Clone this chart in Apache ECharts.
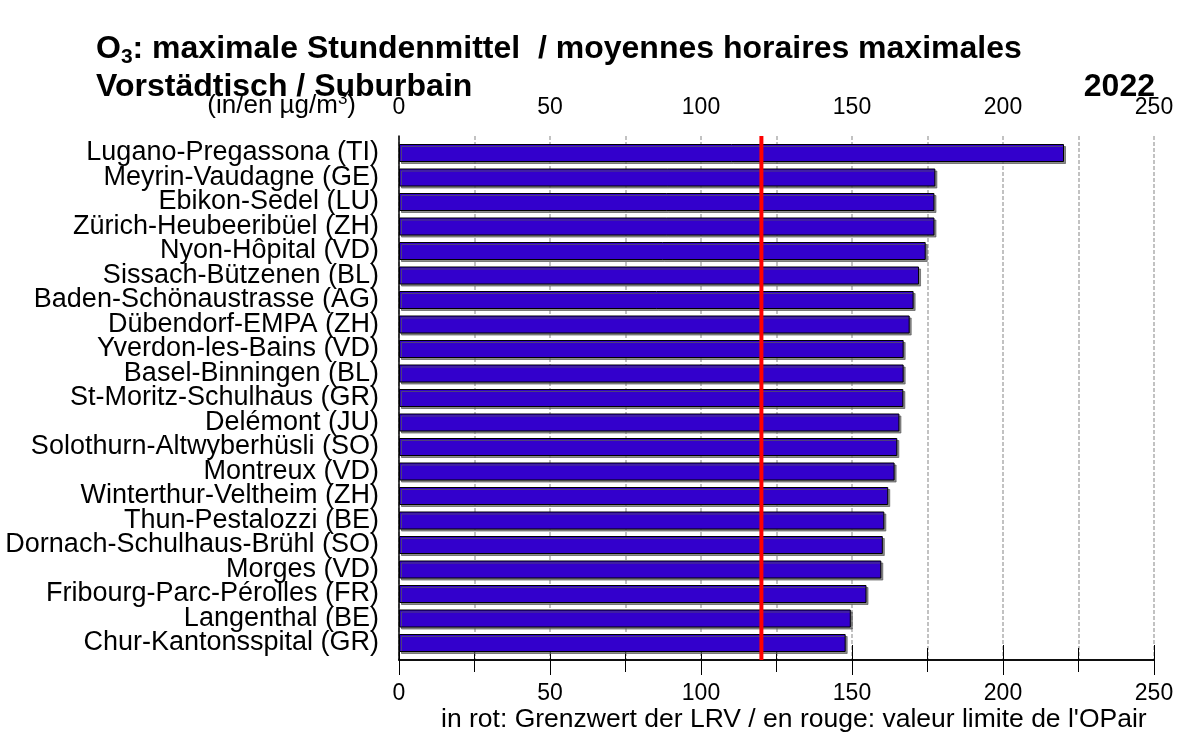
<!DOCTYPE html>
<html>
<head>
<meta charset="utf-8">
<script src="https://cdn.jsdelivr.net/npm/echarts@6/dist/echarts.min.js"></script>
<style>
  html, body { margin: 0; padding: 0; background: #fff; }
  #chart { width: 1185px; height: 736px; }
</style>
</head>
<body>
<div id="chart"></div>
<script>
const stations = [
  'Lugano-Pregassona (TI)', 'Meyrin-Vaudagne (GE)', 'Ebikon-Sedel (LU)', 'Zürich-Heubeeribüel (ZH)',
  'Nyon-Hôpital (VD)', 'Sissach-Bützenen (BL)', 'Baden-Schönaustrasse (AG)', 'Dübendorf-EMPA (ZH)',
  'Yverdon-les-Bains (VD)', 'Basel-Binningen (BL)', 'St-Moritz-Schulhaus (GR)', 'Delémont (JU)',
  'Solothurn-Altwyberhüsli (SO)', 'Montreux (VD)', 'Winterthur-Veltheim (ZH)', 'Thun-Pestalozzi (BE)',
  'Dornach-Schulhaus-Brühl (SO)', 'Morges (VD)', 'Fribourg-Parc-Pérolles (FR)', 'Langenthal (BE)',
  'Chur-Kantonsspital (GR)'
];
const maxHourly = [220.2, 177.6, 177.3, 177.3, 174.4, 172.2, 170.4, 169.1, 167.1, 167.1, 167.0,
  165.7, 165.0, 164.1, 162.0, 160.7, 160.2, 159.7, 154.8, 149.6, 147.9];
const limitValue = 120;
const axisMin = 0;
const axisMax = 250;
const axisStep = 50;

const FONT = '"Liberation Sans", Arial, sans-serif';
const chart = echarts.init(document.getElementById('chart'));

const titleStyle = { fontSize: 32, fontWeight: 'bold', color: '#000', fontFamily: FONT };

const option = {
  animation: false,
  backgroundColor: '#fff',
  textStyle: { fontFamily: FONT },
  title: [
    {
      text: '{b|O}{s|3}{b|: maximale Stundenmittel  / moyennes horaires maximales}',
      left: 96, top: 31, padding: 0,
      textStyle: {
        rich: {
          b: titleStyle,
          s: { fontSize: 21, fontWeight: 'bold', color: '#000', fontFamily: FONT, padding: [16, 0, 0, 0] }
        }
      }
    },
    {
      text: 'Vorstädtisch / Suburbain',
      left: 96, top: 71, padding: 0,
      textStyle: titleStyle
    },
    {
      text: '2022',
      right: 30, top: 71, padding: 0,
      textStyle: titleStyle
    }
  ],
  graphic: [
    {
      type: 'text',
      right: 1185 - 356, top: 91,
      style: {
        text: '{n|(in/en µg/m}{p|3}{n|)}',
        rich: {
          n: { fontSize: 26, fill: '#000', fontFamily: FONT },
          p: { fontSize: 17, fill: '#000', fontFamily: FONT, padding: [0, 0, 13, 0] }
        }
      }
    },
    {
      type: 'text',
      left: 441, top: 706,
      style: {
        text: "in rot: Grenzwert der LRV / en rouge: valeur limite de l'OPair",
        fontSize: 26.5, fill: '#000', fontFamily: FONT
      }
    }
  ],
  grid: [
    { left: 399, right: 31, top: 136, height: 524 },
    { left: 399, right: 31, top: 140.75, height: 514.5 }
  ],
  xAxis: [
    {
      gridIndex: 0, type: 'value', position: 'top',
      min: axisMin, max: axisMax, interval: axisStep,
      axisLine: { show: true, lineStyle: { color: '#000', width: 1.5 } },
      axisTick: { show: true, inside: false, length: 15, lineStyle: { color: '#000', width: 1 } },
      minorTick: { show: true, splitNumber: 2, length: 12, lineStyle: { color: '#000', width: 1 } },
      axisLabel: { fontSize: 23, color: '#000', margin: 17, fontFamily: FONT },
      splitLine: { show: true, lineStyle: { color: '#c2c2c2', width: 2, type: [4, 2] } },
      minorSplitLine: { show: true, lineStyle: { color: '#c2c2c2', width: 2, type: [4, 2] } }
    },
    {
      gridIndex: 0, type: 'value', position: 'bottom',
      min: axisMin, max: axisMax, interval: axisStep,
      axisLine: { show: true, lineStyle: { color: '#000', width: 1.5 } },
      axisTick: { show: true, inside: false, length: 15, lineStyle: { color: '#000', width: 1 } },
      minorTick: { show: true, splitNumber: 2, length: 12, lineStyle: { color: '#000', width: 1 } },
      axisLabel: { fontSize: 23, color: '#000', margin: 22, fontFamily: FONT },
      splitLine: { show: false }
    },
    {
      gridIndex: 1, type: 'value', show: false,
      min: axisMin, max: axisMax
    }
  ],
  yAxis: [
    {
      gridIndex: 0, type: 'value', min: 0, max: 1,
      axisLine: { show: true, onZero: false, lineStyle: { color: '#000', width: 1.5 } },
      axisTick: { show: false }, axisLabel: { show: false }, splitLine: { show: false }
    },
    {
      gridIndex: 1, type: 'category', inverse: true, data: stations,
      axisLine: { show: false }, axisTick: { show: false },
      axisLabel: { interval: 0, fontSize: 27, color: '#000', margin: 20, fontFamily: FONT }
    }
  ],
  series: [
    {
      type: 'bar',
      xAxisIndex: 2, yAxisIndex: 1,
      data: maxHourly,
      barWidth: 18,
      itemStyle: {
        color: '#3300cc',
        borderColor: '#000',
        borderWidth: 1,
        shadowColor: 'rgba(90,90,90,0.7)',
        shadowOffsetX: 2,
        shadowOffsetY: 2,
        shadowBlur: 0
      },
      z: 3
    },
    {
      type: 'line',
      xAxisIndex: 0, yAxisIndex: 0,
      data: [[limitValue, 0], [limitValue, 1]],
      symbol: 'none',
      lineStyle: { color: '#ff0000', width: 4 },
      z: 5
    }
  ]
};

chart.setOption(option);
</script>
</body>
</html>
